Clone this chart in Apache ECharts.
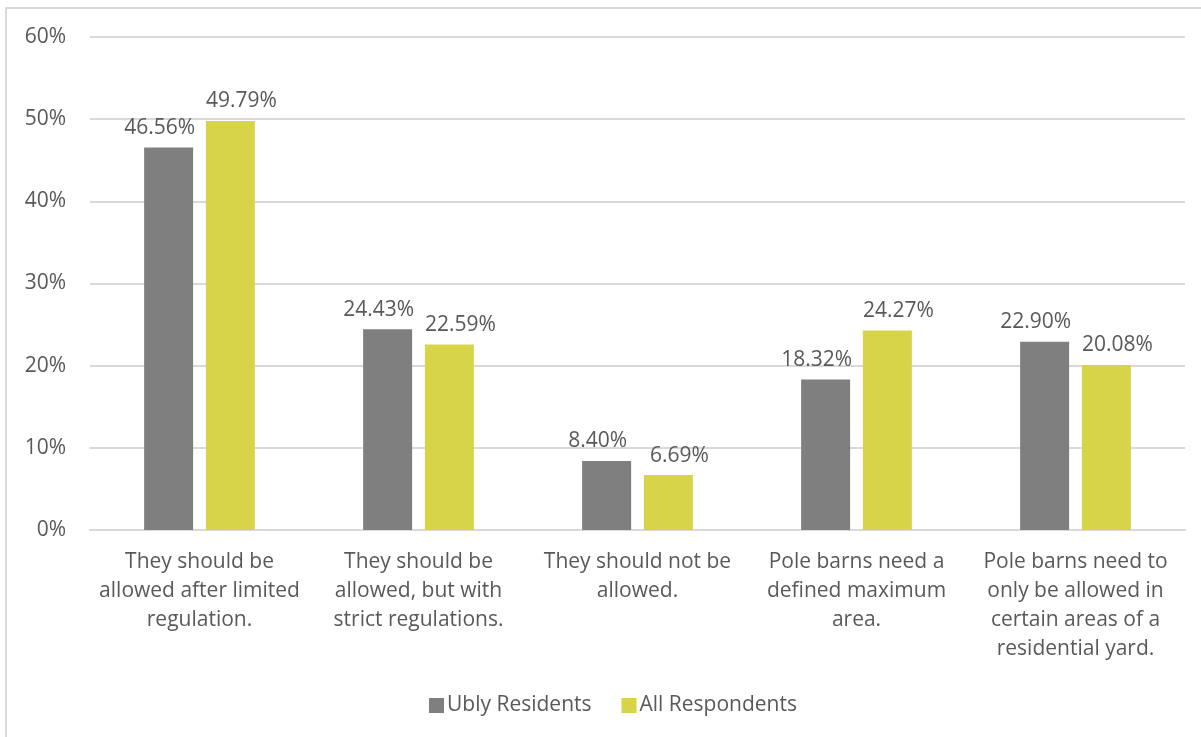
<!DOCTYPE html>
<html>
<head>
<meta charset="utf-8">
<script src="https://cdn.jsdelivr.net/npm/echarts@6/dist/echarts.min.js"></script>
<style>
html,body{margin:0;padding:0;background:#fff;overflow:hidden;}
#frame{position:absolute;left:5px;top:7px;width:1220px;height:760px;border:2px solid #d9d9d9;box-sizing:border-box;}
#chart{position:absolute;left:0;top:0;width:1201px;height:737px;}
</style>
</head>
<body>
<div id="frame"></div>
<div id="chart"></div>
<script>
const categories = [
  "They should be\nallowed after limited\nregulation.",
  "They should be\nallowed, but with\nstrict regulations.",
  "They should not be\nallowed.",
  "Pole barns need a\ndefined maximum\narea.",
  "Pole barns need to\nonly be allowed in\ncertain areas of a\nresidential yard."
];
const seriesNames = ["Ubly Residents", "All Respondents"];
const ublyResidents = [46.56, 24.43, 8.40, 18.32, 22.90];
const allRespondents = [49.79, 22.59, 6.69, 24.27, 20.08];
const yTicks = [0, 10, 20, 30, 40, 50, 60];

const FONT = 'Open Sans';
const TXT = '#595959';
const FS = 21;
const chart = echarts.init(document.getElementById('chart'));
const lbl = (dx) => ({
  show: true, position: 'top', distance: 9, offset: [dx, 0],
  formatter: p => p.value.toFixed(2) + '%',
  fontFamily: FONT, fontSize: FS, color: TXT
});
chart.setOption({
  animation: false,
  grid: {left: 90, right: 16, top: 37, bottom: 207, containLabel: false},
  legend: {
    data: seriesNames, left: 424, top: 690, itemWidth: 15, itemHeight: 15, itemGap: 30,
    icon: 'rect',
    textStyle: {fontFamily: FONT, fontSize: FS, color: TXT, padding: [0, 0, 0, -2]}
  },
  xAxis: {
    type: 'category', data: categories,
    axisLine: {lineStyle: {color: '#d9d9d9', width: 2}},
    axisTick: {show: false},
    axisLabel: {fontFamily: FONT, fontSize: FS, color: TXT, lineHeight: 29, margin: 18, interval: 0}
  },
  yAxis: {
    type: 'value', min: yTicks[0], max: yTicks[yTicks.length - 1], interval: 10,
    axisLine: {show: false}, axisTick: {show: false},
    axisLabel: {fontFamily: FONT, fontSize: FS, color: TXT, margin: 24, formatter: v => v + '%'},
    splitLine: {lineStyle: {color: '#d9d9d9', width: 2}}
  },
  series: [
    {name: seriesNames[0], type: 'bar', data: ublyResidents, itemStyle: {color: '#7f7f7f'},
     barWidth: 49, barGap: '26%', label: lbl(-9)},
    {name: seriesNames[1], type: 'bar', data: allRespondents, itemStyle: {color: '#d8d44a'},
     barWidth: 49, label: lbl(11)}
  ]
});
</script>
</body>
</html>
